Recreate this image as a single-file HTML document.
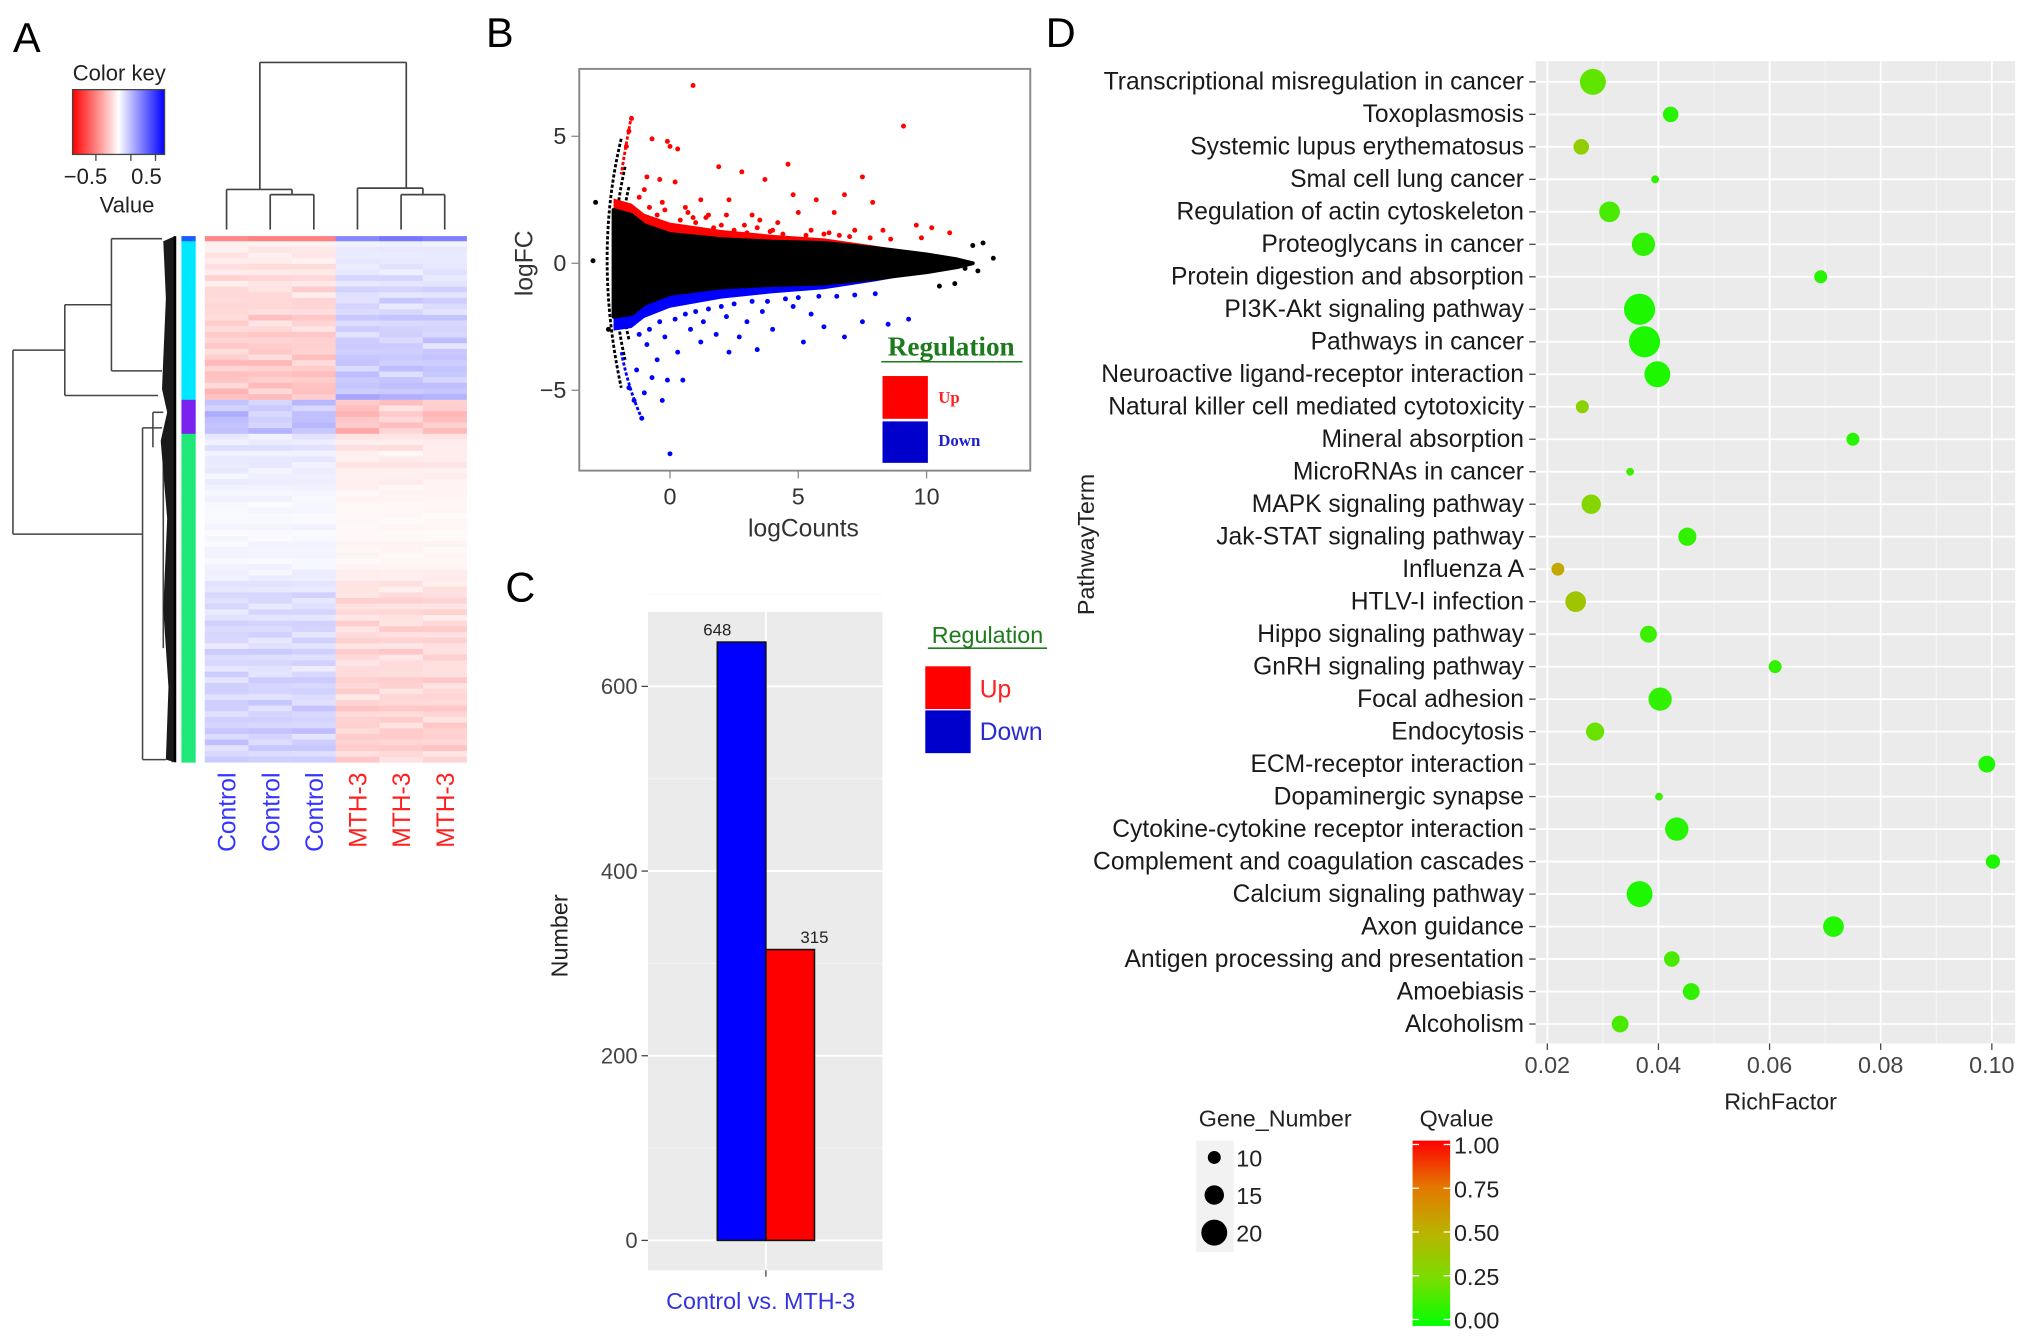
<!DOCTYPE html>
<html><head><meta charset="utf-8"><style>
html,body{margin:0;padding:0;background:#fff}
svg{display:block}
text{font-family:"Liberation Sans",sans-serif}
</style></head><body>
<svg id="fig" xmlns="http://www.w3.org/2000/svg" width="2032" height="1343" viewBox="0 0 1568 1036">
<text x="10" y="40" font-size="32">A</text>
<text x="375" y="36" font-size="32">B</text>
<text x="390" y="464" font-size="32">C</text>
<text x="807" y="36" font-size="32">D</text>
<g id="pa"></g>
<g id="pb"></g>
<g id="pc"></g>
<g id="pd"></g>
</svg>
<script>
// ---------- data ----------
const heatCols = ['Control','Control','Control','MTH-3','MTH-3','MTH-3'];
const heatTopRow = [-0.6,-0.65,-0.65,0.6,0.7,0.65];
const cyanBase = [0.08,0.1,0.12,0.1,0.15,0.12,0.18,0.14,0.2,0.16,0.22,0.18,0.2,0.25,0.22,0.2,0.24,0.26,0.22,0.28,0.25,0.3,0.26,0.28,0.3,0.27,0.32,0.35];
const purpleBase = [0.3,0.25,0.32,0.28,0.3,0.35];
const greenBase = [0.12,0.1,0.14,0.08,0.1,0.12,0.09,0.07,0.1,0.06,0.05,0.06,0.04,0.05,0.03,0.04,0.05,0.03,0.04,0.05,0.06,0.05,0.04,0.06,0.08,0.1,0.12,0.14,0.18,0.2,0.16,0.18,0.15,0.2,0.22,0.18,0.2,0.16,0.22,0.2,0.18,0.15,0.2,0.22,0.24,0.2,0.18,0.22,0.25,0.22,0.2,0.24,0.26,0.22,0.25,0.24,0.2,0.22];
const heatNoise = [1.0,0.7,1.2,0.9,1.1,0.8,1.3,0.6,1.0,1.2,0.85,1.15];

const maUpX = [0.9,9.1,-0.7,-0.1,0.0,0.3,1.9,4.6,2.8,3.7,7.5,7.9,-0.4,0.2,-0.9,1.2,2.3,4.8,5.7,6.8,5.0,3.2,6.4,9.6,10.2,10.9,9.8,1.5,0.6,2.0,4.2,3.5,7.2,8.3,-0.2,0.9,-1.5,-1.6,-1.7,-1.2,-0.8,-0.5,0.4,1.0,1.7,2.5,3.0,3.9,4.4,5.3,6.0,6.6,7.0,7.8,8.6,-1.0,-0.3,0.7,1.4,2.2,2.9,3.4,4.0,5.5,6.2];
const maUpY = [7.0,5.4,4.9,4.8,4.6,4.5,3.8,3.9,3.6,3.3,3.4,2.4,3.3,3.2,3.4,2.5,2.5,2.7,2.5,2.7,2.0,1.9,2.0,1.5,1.4,1.2,1.0,1.9,2.2,1.5,1.6,1.7,1.3,1.3,2.1,1.8,5.7,5.2,4.6,2.6,2.2,1.9,1.7,1.6,1.4,1.3,1.2,1.25,1.15,1.1,1.15,1.1,1.05,1.0,0.95,2.9,2.4,2.0,1.8,1.9,1.5,1.4,1.3,1.3,1.2];
const maDownX = [0.0,-1.1,-0.3,0.5,-0.7,-0.1,-1.0,2.3,3.4,5.2,6.8,4.0,8.5,9.3,1.2,0.3,1.8,2.7,6.0,7.5,0.8,3.0,5.5,-0.5,-1.3,-1.4,-1.6,-1.2,-0.8,-0.4,0.2,0.6,1.0,1.5,2.0,2.5,3.2,3.8,4.5,5.0,5.8,6.5,7.2,8.0,-0.9,-0.2,1.3,2.2,3.6,4.8];
const maDownY = [-7.5,-6.1,-5.4,-4.6,-4.5,-4.6,-5.1,-3.5,-3.4,-3.1,-2.9,-2.6,-2.4,-2.2,-3.1,-3.5,-2.8,-2.9,-2.5,-2.3,-2.6,-2.3,-2.0,-3.8,-4.2,-5.4,-4.9,-2.8,-2.6,-2.3,-2.2,-2.0,-1.9,-1.8,-1.7,-1.6,-1.5,-1.5,-1.4,-1.35,-1.3,-1.3,-1.25,-1.2,-3.2,-2.9,-2.3,-2.1,-1.9,-1.7];
const maOtherX = [12.6,11.8,11.5,12.0,11.1,10.5,-3.0,12.2,-2.9,-2.4];
const maOtherY = [0.2,0.7,-0.2,-0.3,-0.8,-0.9,0.1,0.8,2.4,-2.6];
const maCloudUpper = [[-2.2,2.1],[-1.5,1.9],[-1,1.5],[0,1.15],[2,0.95],[4,0.85],[6,0.8],[8,0.6],[10,0.35],[11.2,0.15],[11.8,0]];
const maCloudLower = [[-2.2,-2.1],[-1.5,-2.0],[-1,-1.6],[0,-1.2],[2,-0.95],[4,-0.85],[6,-0.8],[8,-0.6],[10,-0.35],[11.2,-0.15],[11.8,0]];
const maXTicks = [0,5,10];
const maYTicks = [5,0,-5];

const barCategories = ['Down','Up'];
const barValues = [648,315];
const barColors = ['#0000ff','#ff0000'];
const barYTicks = [0,200,400,600];

const pathways = ['Transcriptional misregulation in cancer','Toxoplasmosis','Systemic lupus erythematosus','Smal cell lung cancer','Regulation of actin cytoskeleton','Proteoglycans in cancer','Protein digestion and absorption','PI3K-Akt signaling pathway','Pathways in cancer','Neuroactive ligand-receptor interaction','Natural killer cell mediated cytotoxicity','Mineral absorption','MicroRNAs in cancer','MAPK signaling pathway','Jak-STAT signaling pathway','Influenza A','HTLV-I infection','Hippo signaling pathway','GnRH signaling pathway','Focal adhesion','Endocytosis','ECM-receptor interaction','Dopaminergic synapse','Cytokine-cytokine receptor interaction','Complement and coagulation cascades','Calcium signaling pathway','Axon guidance','Antigen processing and presentation','Amoebiasis','Alcoholism'];
const richFactor = [0.0282,0.0422,0.0261,0.0394,0.0312,0.0373,0.0692,0.0366,0.0375,0.0398,0.0263,0.0750,0.0349,0.0279,0.0452,0.0219,0.0251,0.0382,0.0610,0.0403,0.0286,0.0991,0.0401,0.0433,0.1002,0.0366,0.0715,0.0424,0.0459,0.0331];
const geneNumber = [20,12,12,6,16,18,10,24,24,20,10,10,6,15,14,10,16,13,10,18,14,13,6,18,11,20,16,12,13,13];
const qValue = [0.2,0.08,0.35,0.1,0.15,0.1,0.08,0.06,0.06,0.06,0.32,0.08,0.12,0.3,0.1,0.55,0.4,0.12,0.1,0.1,0.22,0.06,0.12,0.08,0.06,0.06,0.07,0.15,0.1,0.15];
const richTicks = [0.02,0.04,0.06,0.08,0.10];
const sizeLegend = [10,15,20];
const qTicks = [1.00,0.75,0.50,0.25,0.00];

// ---------- helpers ----------
const NS='http://www.w3.org/2000/svg';
function mk(tag,attrs,parent,txt){const e=document.createElementNS(NS,tag);for(const k in attrs)e.setAttribute(k,attrs[k]);if(txt!==undefined)e.textContent=txt;parent.appendChild(e);return e;}
const pa=document.getElementById('pa'),pb=document.getElementById('pb'),pc=document.getElementById('pc'),pd=document.getElementById('pd');

// ---------- Panel A ----------
function heatColor(v){const a=Math.min(1,Math.abs(v)/1.3);const c=Math.round(255*(1-a));return v<0?`rgb(255,${c},${c})`:`rgb(${c},${c},255)`;}
const hx0=158,hx1=360,cw=(hx1-hx0)/6;
(function(){
  let el;
  const g=mk('linearGradient',{id:'ckg'},mk('defs',{},pa));
  [['0','#ff0000'],['0.5','#ffffff'],['1','#0000ff']].forEach(s=>mk('stop',{offset:s[0],'stop-color':s[1]},g));
  el=mk('rect',{x:56,y:69,width:71,height:50,fill:'url(#ckg)',stroke:'#444','stroke-width':1},pa);
  
  [74,101,120].forEach(t=>mk('line',{x1:t,x2:t,y1:119,y2:124,stroke:'#444'},pa));
  el=mk('text',{x:92,y:62,'font-size':17,'text-anchor':'middle',fill:'#222'},pa,'Color key');
  
  mk('text',{x:66,y:142,'font-size':17,'text-anchor':'middle',fill:'#222'},pa,'\u22120.5');
  mk('text',{x:113,y:142,'font-size':17,'text-anchor':'middle',fill:'#222'},pa,'0.5');
  el=mk('text',{x:98,y:164,'font-size':17,'text-anchor':'middle',fill:'#222'},pa,'Value');
  
  const lx=heatCols.map((c,i)=>hx0+cw*(i+0.5));
  const dl=[[lx[0],177,lx[0],146],[lx[1],177,lx[1],150],[lx[2],177,lx[2],150],[lx[1],150,lx[2],150],[(lx[1]+lx[2])/2,150,(lx[1]+lx[2])/2,146],[lx[0],146,(lx[1]+lx[2])/2,146],
   [lx[3],177,lx[3],145],[lx[4],177,lx[4],150],[lx[5],177,lx[5],150],[lx[4],150,lx[5],150],[(lx[4]+lx[5])/2,150,(lx[4]+lx[5])/2,145],[lx[3],145,(lx[4]+lx[5])/2,145],
   [(lx[0]+lx[2])/2-8,146,(lx[0]+lx[2])/2-8,48],[(lx[3]+lx[5])/2+4,145,(lx[3]+lx[5])/2+4,48],[(lx[0]+lx[2])/2-8,48,(lx[3]+lx[5])/2+4,48]];
  const cd=mk('g',{stroke:'#444','stroke-width':1.3},pa);
  dl.forEach(l=>mk('line',{x1:l[0],y1:l[1],x2:l[2],y2:l[3]},cd));
  const rows=[];
  rows.push({vals:heatTopRow,cl:'#1a5cff'});
  cyanBase.forEach((b,i)=>rows.push({vals:heatCols.map((c,j)=>(c==='Control'?-1:1)*b*heatNoise[(i+j*5)%12]),cl:'#00e8ff'}));
  purpleBase.forEach((b,i)=>rows.push({vals:heatCols.map((c,j)=>(c==='Control'?1:-1)*b*heatNoise[(i*3+j)%12]),cl:'#7a22f0'}));
  greenBase.forEach((b,i)=>rows.push({vals:heatCols.map((c,j)=>(c==='Control'?1:-1)*b*heatNoise[(i+j*7)%12]),cl:'#1ee878'}));
  const y0=182,y1=588,rh=(y1-y0-4)/(rows.length-1);
  const hm=mk('g',{},pa);
  const sb=mk('g',{},pa);
  let y=y0;
  rows.forEach((r,i)=>{const h=i===0?4:rh;
    r.vals.forEach((v,j)=>{const c=mk('rect',{x:hx0+cw*j,y:y,width:cw+0.3,height:h+0.3,fill:heatColor(v)},hm);
      });
    mk('rect',{x:140,y:y,width:11,height:h+0.3,fill:r.cl},sb);
    y+=h;});
  heatCols.forEach((c,i)=>{const t=mk('text',{x:0,y:0,'font-size':19,'text-anchor':'end',fill:c==='Control'?'#3535ff':'#ff2020',transform:`translate(${lx[i]+7},596) rotate(-90)`},pa,c);
    });
  const rd=mk('g',{stroke:'#444','stroke-width':1.2,fill:'none'},pa);
  const rl=[[10,270,10,412],[10,270,50,270],[10,412,110,412],[50,235,50,305],[50,305,122,305],[50,235,86,235],[86,184,86,286],[86,184,125,184],[86,286,125,286],
   [110,330,110,586],[110,330,125,330],[110,586,128,586],[118,318,118,345],[118,318,126,318],[126,345,126,500],[133,200,133,588]];
  rl.forEach(l=>mk('line',{x1:l[0],y1:l[1],x2:l[2],y2:l[3]},rd));
  const comb=mk('path',{d:'M135,182 L126,186 L128,230 L125,300 L129,318 L124,340 L129,400 L126,470 L130,530 L128,586 L135,588 Z',fill:'#1a1a1a'},pa);
  
  mk('line',{x1:135,y1:182,x2:135,y2:588,stroke:'#000','stroke-width':2},pa);
})();

// ---------- Panel B ----------
(function(){
  const X=v=>517+v*19.8, Y=v=>203-v*19.6;
  let el;
  el=mk('rect',{x:447,y:53,width:348,height:310,fill:'#fff',stroke:'#888','stroke-width':1.5},pb);
  
  const arcs=mk('g',{fill:'none','stroke-width':2.2,'stroke-dasharray':'2.5 1.5'},pb);
  
  [[-1.9,4.9,-3.0,0.3],[-1.75,3.8,-2.6,0],[-1.6,3.0,-2.3,0]].forEach(a=>{
    mk('path',{d:`M${X(a[0])},${Y(a[1])} Q${X(a[2])},${Y(a[3])} ${X(a[0])},${Y(-a[1])}`,stroke:'#000'},arcs);});
  mk('path',{d:`M${X(-1.5)},${Y(5.8)} Q${X(-1.75)},${Y(4.5)} ${X(-1.9)},${Y(3.5)}`,stroke:'#ff0000'},arcs);
  mk('path',{d:`M${X(-1.9)},${Y(-3.5)} Q${X(-1.6)},${Y(-5)} ${X(-1.1)},${Y(-6.1)}`,stroke:'#0000ff'},arcs);
  const band=(pts,off,col,name)=>{const up=pts.map(p=>`${X(p[0])},${Y(p[1])}`);const dn=pts.slice().reverse().map(p=>`${X(p[0])},${Y(p[1]+off*(1-Math.max(0,p[0])/10))}`);
    const e=mk('polygon',{points:up.concat(dn).join(' '),fill:col},pb);};
  band(maCloudUpper.slice(0,9),0.45,'#ff0000','up-regulated-band');
  band(maCloudLower.slice(0,9),-0.55,'#0000ff','down-regulated-band');
  const cloud=maCloudUpper.map(p=>`${X(p[0])},${Y(p[1])}`).concat(maCloudLower.slice().reverse().map(p=>`${X(p[0])},${Y(p[1])}`));
  el=mk('polygon',{points:cloud.join(' '),fill:'#000',stroke:'#000','stroke-width':3,'stroke-linejoin':'round'},pb);
  
  const pts=(xs,ys,col,name)=>xs.forEach((x,i)=>{const c=mk('circle',{cx:X(x),cy:Y(ys[i]),r:1.9,fill:col},pb);});
  pts(maUpX,maUpY,'#ff0000','up-point');pts(maDownX,maDownY,'#0000ff','down-point');pts(maOtherX,maOtherY,'#000','ns-point');
  maXTicks.forEach(t=>{mk('line',{x1:X(t),x2:X(t),y1:363,y2:369,stroke:'#888'},pb);
    el=mk('text',{x:X(t),y:389,'font-size':18,'text-anchor':'middle',fill:'#333'},pb,String(t));});
  maYTicks.forEach(t=>{mk('line',{x1:441,x2:447,y1:Y(t),y2:Y(t),stroke:'#888'},pb);
    el=mk('text',{x:437,y:Y(t)+6,'font-size':18,'text-anchor':'end',fill:'#333'},pb,t<0?'\u2212'+(-t):String(t));});
  el=mk('text',{x:620,y:414,'font-size':19,'text-anchor':'middle',fill:'#333'},pb,'logCounts');
  el=mk('text',{x:0,y:0,'font-size':19,'text-anchor':'middle',fill:'#333',transform:'translate(411,203) rotate(-90)'},pb,'logFC');
  el=mk('text',{x:734,y:274,'font-size':21,'font-weight':'bold','text-anchor':'middle',fill:'#1d7a1d',style:'font-family:"Liberation Serif",serif'},pb,'Regulation');
  mk('line',{x1:680,x2:789,y1:279,y2:279,stroke:'#1d7a1d','stroke-width':1.2},pb);
  el=mk('rect',{x:681,y:290,width:35,height:33,fill:'#ff0000'},pb);
  el=mk('rect',{x:681,y:325,width:35,height:32,fill:'#0000cc'},pb);
  mk('text',{x:724,y:311,'font-size':13,'font-weight':'bold',fill:'#ff2020',style:'font-family:"Liberation Serif",serif'},pb,'Up');
  mk('text',{x:724,y:344,'font-size':13,'font-weight':'bold',fill:'#2020cc',style:'font-family:"Liberation Serif",serif'},pb,'Down');
})();

// ---------- Panel C ----------
(function(){
  const Y=v=>957-v*0.7125;
  let el=mk('rect',{x:500,y:472,width:181,height:508,fill:'#ebebeb'},pc);
  
  barYTicks.forEach(t=>{mk('line',{x1:500,x2:681,y1:Y(t),y2:Y(t),stroke:'#fff','stroke-width':1.4},pc);
    mk('line',{x1:500,x2:681,y1:Y(t+100),y2:Y(t+100),stroke:'#f7f7f7','stroke-width':0.7},pc);
    mk('line',{x1:495,x2:500,y1:Y(t),y2:Y(t),stroke:'#444'},pc);
    el=mk('text',{x:492,y:Y(t)+6,'font-size':17,'text-anchor':'end',fill:'#444'},pc,String(t));});
  mk('line',{x1:591,x2:591,y1:472,y2:980,stroke:'#fff','stroke-width':1.4},pc);
  mk('line',{x1:591,x2:591,y1:980,y2:985,stroke:'#444'},pc);
  const bw=37.5;
  barValues.forEach((v,i)=>{const x=553.5+i*bw;
    el=mk('rect',{x:x,y:Y(v),width:bw,height:Y(0)-Y(v),fill:barColors[i],stroke:'#111','stroke-width':1.2},pc);
    
    el=mk('text',{x:x+(i===0?0:bw),y:Y(v)-5,'font-size':13,'text-anchor':'middle',fill:'#222'},pc,String(v));
    });
  el=mk('text',{x:587,y:1010,'font-size':18,'text-anchor':'middle',fill:'#3333dd'},pc,'Control vs. MTH-3');
  el=mk('text',{x:0,y:0,'font-size':18,'text-anchor':'middle',fill:'#222',transform:'translate(438,722) rotate(-90)'},pc,'Number');
  el=mk('text',{x:762,y:496,'font-size':18,'text-anchor':'middle',fill:'#1d7a1d'},pc,'Regulation');
  mk('line',{x1:716,x2:808,y1:500,y2:500,stroke:'#1d7a1d','stroke-width':1.2},pc);
  el=mk('rect',{x:714,y:514,width:35,height:33,fill:'#ff0000'},pc);
  el=mk('rect',{x:714,y:548,width:35,height:33,fill:'#0000cc'},pc);
  mk('text',{x:756,y:538,'font-size':19,fill:'#ff2020'},pc,'Up');
  mk('text',{x:756,y:571,'font-size':19,fill:'#2a2ad0'},pc,'Down');
})();

// ---------- Panel D ----------
(function(){
  const X=v=>1194+(v-0.02)*4287.5, Y=i=>63+i*25.07;
  const L=1185,R=1555,T=47,B=805;
  let el=mk('rect',{x:L,y:T,width:R-L,height:B-T,fill:'#ebebeb'},pd);
  
  richTicks.forEach((t,k)=>{mk('line',{x1:X(t),x2:X(t),y1:T,y2:B,stroke:'#fff','stroke-width':1.4},pd);
    if(k<richTicks.length-1)mk('line',{x1:X(t+0.01),x2:X(t+0.01),y1:T,y2:B,stroke:'#f7f7f7','stroke-width':0.7},pd);
    mk('line',{x1:X(t),x2:X(t),y1:B,y2:B+5,stroke:'#444'},pd);
    el=mk('text',{x:X(t),y:828,'font-size':18,'text-anchor':'middle',fill:'#444'},pd,t.toFixed(2));});
  const stops=[[0,[0,255,0]],[0.25,[120,222,0]],[0.5,[185,180,0]],[0.75,[228,120,0]],[1,[255,0,0]]];
  function qc(q){for(let k=0;k<stops.length-1;k++){const a=stops[k],b=stops[k+1];if(q<=b[0]){const f=(q-a[0])/(b[0]-a[0]);return 'rgb('+a[1].map((c,j)=>Math.round(c+(b[1][j]-c)*f)).join(',')+')';}}return 'rgb(255,0,0)';}
  const rad=n=>n*0.5;
  pathways.forEach((p,i)=>{const y=Y(i);
    mk('line',{x1:L,x2:R,y1:y,y2:y,stroke:'#fff','stroke-width':1.4},pd);
    mk('line',{x1:L-5,x2:L,y1:y,y2:y,stroke:'#444'},pd);
    el=mk('text',{x:L-9,y:y+6,'font-size':19,'text-anchor':'end',fill:'#1a1a1a'},pd,p);});
  pathways.forEach((p,i)=>{el=mk('circle',{cx:X(richFactor[i]),cy:Y(i),r:rad(geneNumber[i]),fill:qc(qValue[i])},pd);
    });
  el=mk('text',{x:1374,y:856,'font-size':18,'text-anchor':'middle',fill:'#222'},pd,'RichFactor');
  el=mk('text',{x:0,y:0,'font-size':18,'text-anchor':'middle',fill:'#222',transform:'translate(844,420) rotate(-90)'},pd,'PathwayTerm');
  el=mk('text',{x:984,y:869,'font-size':18,'text-anchor':'middle',fill:'#222'},pd,'Gene_Number');
  mk('rect',{x:923,y:880,width:29,height:86,fill:'#f2f2f2'},pd);
  sizeLegend.forEach((n,k)=>{const cy=893+k*29;el=mk('circle',{cx:937,cy:cy,r:rad(n),fill:'#000'},pd);
    mk('text',{x:954,y:cy+7,'font-size':18,fill:'#222'},pd,String(n));});
  el=mk('text',{x:1124,y:869,'font-size':18,'text-anchor':'middle',fill:'#222'},pd,'Qvalue');
  const g=mk('linearGradient',{id:'qg',x1:0,y1:1,x2:0,y2:0},mk('defs',{},pd));
  stops.forEach(s=>mk('stop',{offset:s[0],'stop-color':'rgb('+s[1].join(',')+')'},g));
  el=mk('rect',{x:1090,y:880,width:29,height:143,fill:'url(#qg)'},pd);
  qTicks.forEach(t=>{const y=1018-t*135;mk('line',{x1:1090,x2:1095,y1:y,y2:y,stroke:'#fff'},pd);mk('line',{x1:1114,x2:1119,y1:y,y2:y,stroke:'#fff'},pd);
    el=mk('text',{x:1122,y:y+7,'font-size':18,fill:'#222'},pd,t.toFixed(2));});
})();
</script>
</body></html>
